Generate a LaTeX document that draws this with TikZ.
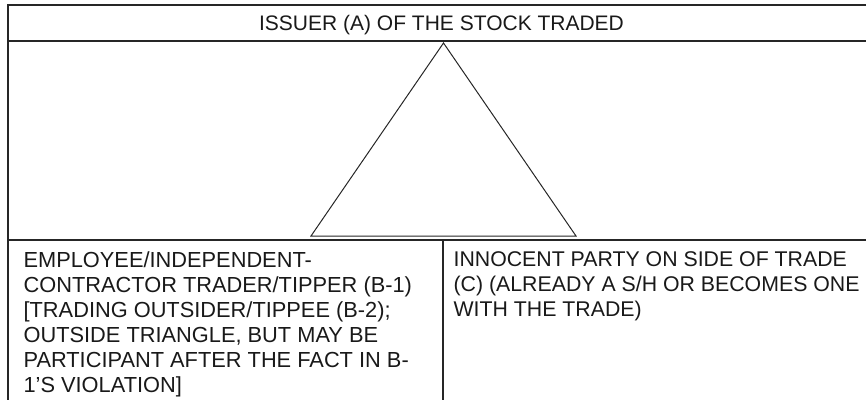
\documentclass[tikz,border=0pt]{standalone}
\usepackage{fontspec}
\setmainfont{Liberation Sans}
\begin{document}
\begin{tikzpicture}[x=1pt,y=-1pt,line width=1.2pt,draw=black!85,
	lbl/.style={inner sep=0pt,align=left,text=black!90,font=\fontsize{21}{25.3}\selectfont},
	body/.style={lbl,anchor=north west,font=\fontsize{21.8}{25.1}\selectfont}]
	\useasboundingbox (0,0) rectangle (867,400);
	\draw (866,5) -- (8,5) -- (8,400);
	\draw (8,41) -- (866,41);
	\draw (8,240) -- (866,240);
	\draw (443,240) -- (443,400);
	\coordinate (apex) at (443.5,43);
	\coordinate (left) at (311,236);
	\coordinate (right) at (576,236);
	\draw [line width=1pt] (apex) -- (left) -- (right) -- cycle;
	\node (issuer) at (441.5,30.5) [lbl,anchor=base] {ISSUER (A) OF THE STOCK TRADED};
	\node (tipper) at (23,251) [body] {EMPLOYEE/INDEPENDENT-\\
		CONTRACTOR TRADER/TIPPER (B-1)\\
		{[}TRADING OUTSIDER/TIPPEE (B-2);\\
		OUTSIDE TRIANGLE, BUT MAY BE\\
		PARTICIPANT AFTER THE FACT IN B-\\
		1'S VIOLATION]};
	\node (innocent) at (453,251) [body,font=\fontsize{21.3}{25.1}\selectfont] {INNOCENT PARTY ON SIDE OF TRADE\\
		(C) (ALREADY A S/H OR BECOMES ONE\\
		WITH THE TRADE)};
\end{tikzpicture}
\end{document}
